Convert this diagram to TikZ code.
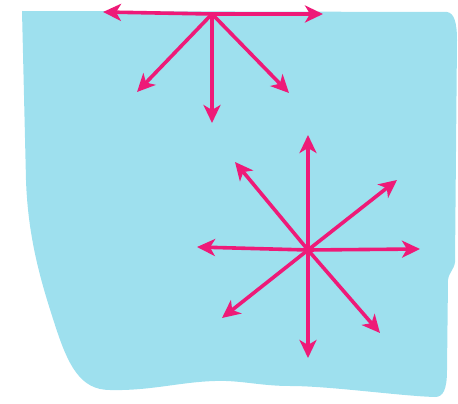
\documentclass[tikz,border=0pt]{standalone}
\usetikzlibrary{arrows.meta}
\definecolor{bgblue}{HTML}{9EE0EE}
\definecolor{pinkarrow}{HTML}{EE1A78}
\begin{document}
\begin{tikzpicture}[x=1pt,y=-1pt,
  ray/.style={draw=pinkarrow,line width=3.6pt,line cap=round,
    -{Stealth[length=18pt,width=17pt,inset=5pt]}}]
\useasboundingbox (0,0) rectangle (458,404);
\fill[bgblue] (22,11) -- (447,12) .. controls (454,13) and (457,22) .. (457,40)
  -- (455,262) .. controls (454,270) and (449,272) .. (448,280) -- (447,370)
  .. controls (447,390) and (443,397) .. (435,397)
  .. controls (400,396) and (330,386) .. (290,386)
  .. controls (260,386) and (240,380) .. (215,381)
  .. controls (180,382) and (150,391) .. (110,390)
  .. controls (80,390) and (68,365) .. (55,325)
  .. controls (42,285) and (28,240) .. (26,180) -- cycle;
% top cluster
\coordinate (t) at (212,14);
\coordinate (tl) at (103,12);
\coordinate (tr) at (323,14);
\coordinate (tdl) at (137,92);
\coordinate (td) at (212,123);
\coordinate (tdr) at (289,93);
\foreach \e in {tl,tr,tdl,td,tdr} \draw[ray] (t) -- (\e);
% star cluster
\coordinate (c) at (308,250);
\coordinate (n) at (308,135);
\coordinate (nw) at (235,162);
\coordinate (ne) at (397,180);
\coordinate (e) at (420,249);
\coordinate (w) at (197,247);
\coordinate (sw) at (222,318);
\coordinate (s) at (308,358);
\coordinate (se) at (380,333);
\foreach \e in {n,nw,ne,e,w,sw,s,se} \draw[ray] (c) -- (\e);
\end{tikzpicture}
\end{document}
